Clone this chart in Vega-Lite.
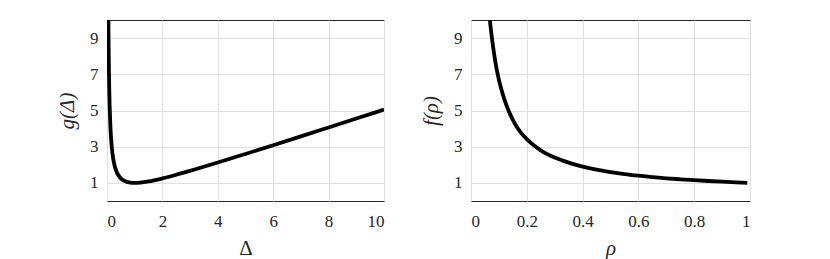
{
  "$schema": "https://vega.github.io/schema/vega-lite/v6.json",
  "background": "white",
  "padding": {"left": 56, "top": 19, "right": 5, "bottom": 5},
  "bounds": "flush",
  "spacing": 87,
  "datasets": {
    "g": [
      {"d": 0.045, "v": 11.13}, {"d": 0.05, "v": 10.025}, {"d": 0.055, "v": 9.118}, {"d": 0.06, "v": 8.363},
      {"d": 0.07, "v": 7.178}, {"d": 0.08, "v": 6.29}, {"d": 0.09, "v": 5.601}, {"d": 0.1, "v": 5.05},
      {"d": 0.12, "v": 4.227}, {"d": 0.14, "v": 3.641}, {"d": 0.16, "v": 3.205}, {"d": 0.18, "v": 2.868},
      {"d": 0.2, "v": 2.6}, {"d": 0.25, "v": 2.125}, {"d": 0.3, "v": 1.817}, {"d": 0.35, "v": 1.604},
      {"d": 0.4, "v": 1.45}, {"d": 0.5, "v": 1.25}, {"d": 0.6, "v": 1.133}, {"d": 0.7, "v": 1.064},
      {"d": 0.8, "v": 1.025}, {"d": 0.9, "v": 1.006}, {"d": 1.0, "v": 1.0}, {"d": 1.2, "v": 1.017},
      {"d": 1.5, "v": 1.083}, {"d": 2, "v": 1.25}, {"d": 2.5, "v": 1.45}, {"d": 3, "v": 1.667},
      {"d": 4, "v": 2.125}, {"d": 5, "v": 2.6}, {"d": 6, "v": 3.083}, {"d": 7, "v": 3.571},
      {"d": 8, "v": 4.063}, {"d": 9, "v": 4.556}, {"d": 10, "v": 5.05}
    ],
    "f": [
      {"r": 0.065, "v": 10.4}, {"r": 0.07, "v": 9.65}, {"r": 0.075, "v": 9.0}, {"r": 0.08, "v": 8.43},
      {"r": 0.09, "v": 7.45}, {"r": 0.1, "v": 6.7}, {"r": 0.11, "v": 6.1}, {"r": 0.12, "v": 5.6},
      {"r": 0.13, "v": 5.17}, {"r": 0.14, "v": 4.8}, {"r": 0.15, "v": 4.48}, {"r": 0.16, "v": 4.2},
      {"r": 0.18, "v": 3.75}, {"r": 0.2, "v": 3.42}, {"r": 0.225, "v": 3.08}, {"r": 0.25, "v": 2.8},
      {"r": 0.3, "v": 2.4}, {"r": 0.35, "v": 2.12}, {"r": 0.4, "v": 1.9}, {"r": 0.45, "v": 1.73},
      {"r": 0.5, "v": 1.6}, {"r": 0.55, "v": 1.49}, {"r": 0.6, "v": 1.4}, {"r": 0.65, "v": 1.32},
      {"r": 0.7, "v": 1.255}, {"r": 0.75, "v": 1.2}, {"r": 0.8, "v": 1.15}, {"r": 0.85, "v": 1.105},
      {"r": 0.9, "v": 1.065}, {"r": 0.95, "v": 1.03}, {"r": 0.99, "v": 1.006}
    ]
  },
  "config": {
    "font": "serif",
    "view": {"stroke": "#262626", "strokeWidth": 1},
    "axis": {
      "grid": true, "gridColor": "#dfdfdf", "gridWidth": 1,
      "domain": false, "ticks": false,
      "labelFont": "serif", "labelFontSize": 17, "labelColor": "#262626",
      "titleFont": "serif", "titleFontSize": 21, "titleFontWeight": "normal", "titleColor": "#262626"
    }
  },
  "hconcat": [
    {
      "width": 277, "height": 181,
      "data": {"name": "g"},
      "mark": {"type": "line", "color": "black", "strokeWidth": 3.8, "clip": true, "interpolate": "monotone"},
      "encoding": {
        "x": {"field": "d", "type": "quantitative", "scale": {"domain": [0, 10], "nice": false},
              "axis": {"values": [0, 2, 4, 6, 8, 10], "title": "Δ", "labelPadding": 12, "titlePadding": 8}},
        "y": {"field": "v", "type": "quantitative", "scale": {"domain": [0, 10], "nice": false},
              "axis": {"values": [1, 3, 5, 7, 9], "title": "g(Δ)", "titleFontStyle": "italic", "labelPadding": 9, "titlePadding": 12}}
      }
    },
    {
      "width": 279, "height": 181,
      "data": {"name": "f"},
      "mark": {"type": "line", "color": "black", "strokeWidth": 3.8, "clip": true, "interpolate": "monotone"},
      "encoding": {
        "x": {"field": "r", "type": "quantitative", "scale": {"domain": [0, 1], "nice": false},
              "axis": {"values": [0, 0.2, 0.4, 0.6, 0.8, 1], "format": "~g", "title": "ρ", "titleFontStyle": "italic", "labelPadding": 12, "titlePadding": 8}},
        "y": {"field": "v", "type": "quantitative", "scale": {"domain": [0, 10], "nice": false},
              "axis": {"values": [1, 3, 5, 7, 9], "title": "f(ρ)", "titleFontStyle": "italic", "labelPadding": 9, "titlePadding": 12}}
      }
    }
  ]
}
